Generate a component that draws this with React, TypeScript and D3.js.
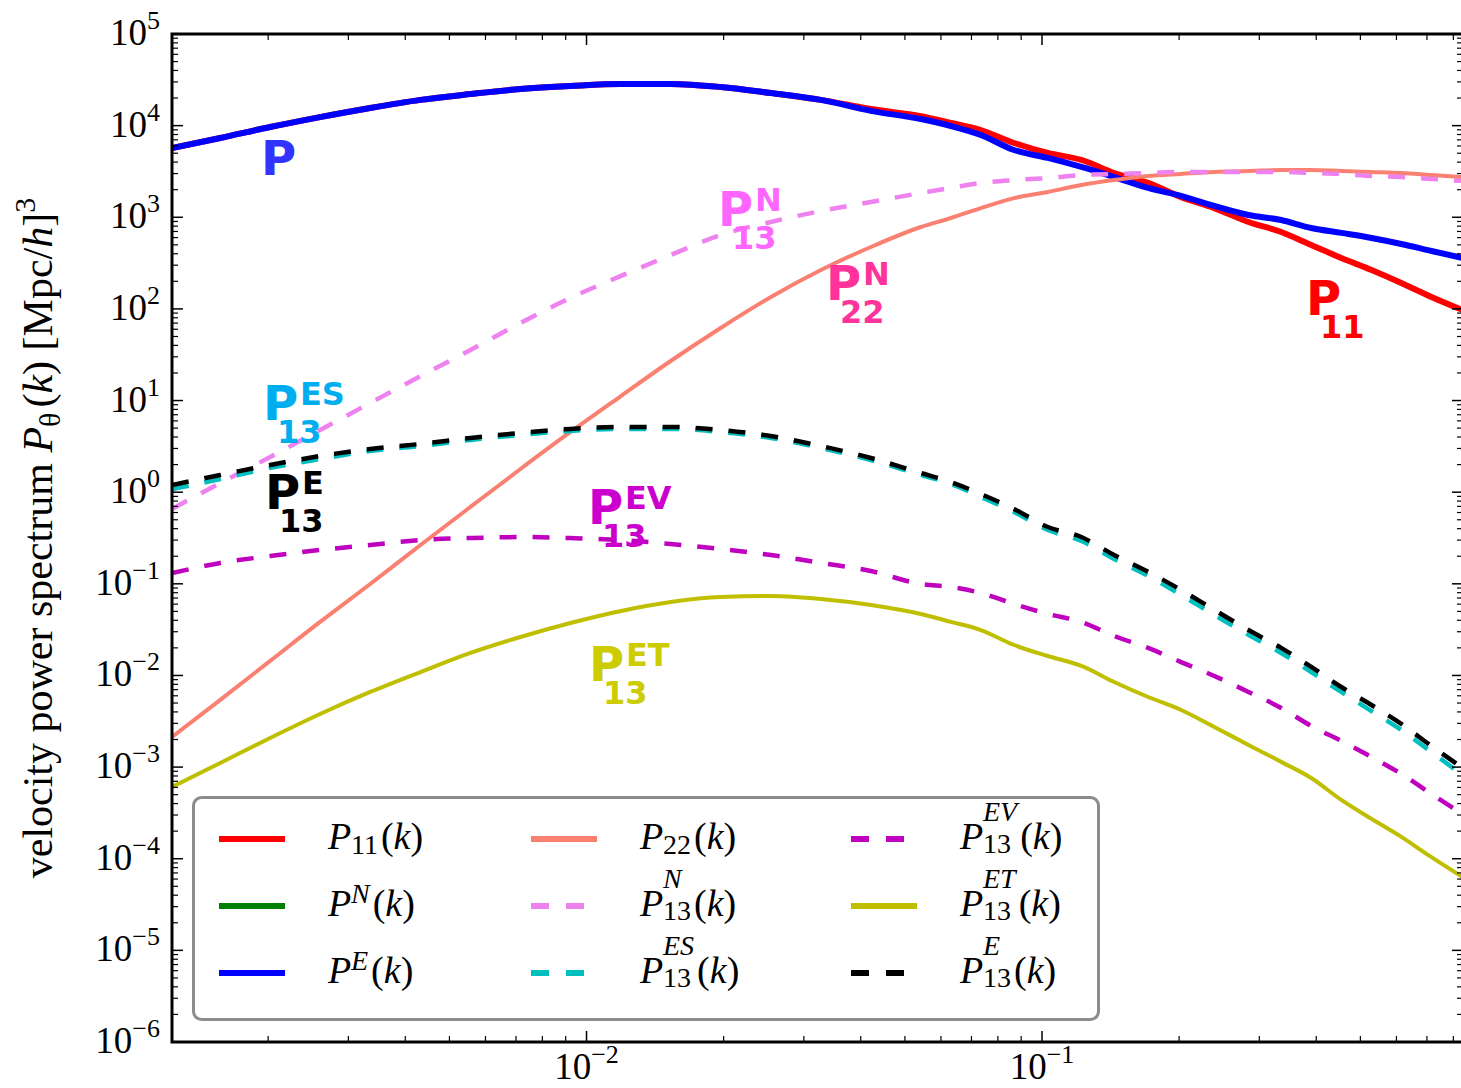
import * as d3 from "d3"

// wavenumber grid (h/Mpc) and the curves
const kGrid = [0.00123, 0.00157, 0.00202, 0.0026, 0.00335, 0.00432, 0.00556, 0.00716, 0.00922, 0.0119, 0.0153, 0.0197, 0.0254, 0.0327, 0.0421, 0.0542, 0.0631, 0.0734, 0.0868, 0.103, 0.122, 0.144, 0.171, 0.202, 0.239, 0.284, 0.335, 0.39, 0.454, 0.529, 0.615, 0.716, 0.838]

const p11 = [5700, 7330, 9660, 12400, 15600, 19100, 22100, 25100, 27100, 28500, 28500, 26400, 22700, 19100, 15200, 12700, 10700, 8960, 6470, 5030, 4220, 3040, 2370, 1660, 1260, 889, 690, 499, 360, 266, 192, 135, 97.3]
const pE = [5700, 7330, 9660, 12400, 15600, 19100, 22100, 25100, 27100, 28500, 28500, 26400, 22700, 19100, 14500, 11800, 9910, 7910, 5420, 4440, 3540, 2750, 2090, 1710, 1330, 1060, 934, 764, 675, 594, 511, 429, 360]
const p22 = [0.00213, 0.00541, 0.0144, 0.0384, 0.0996, 0.265, 0.69, 1.79, 4.54, 11.2, 27.0, 61.9, 135, 266, 474, 783, 982, 1260, 1620, 1890, 2250, 2550, 2820, 2970, 3120, 3200, 3280, 3280, 3200, 3120, 3040, 2890, 2750]
const p13N = [0.656, 1.26, 2.42, 4.77, 9.4, 18.5, 35.6, 70.2, 132, 229, 387, 641, 889, 1170, 1470, 1840, 2090, 2370, 2550, 2680, 2890, 2970, 3040, 3120, 3120, 3120, 3120, 3040, 2970, 2820, 2750, 2620, 2490]
const p13ES = [1.08, 1.39, 1.84, 2.3, 2.82, 3.19, 3.72, 4.21, 4.66, 4.9, 4.9, 4.54, 3.91, 3.03, 2.24, 1.54, 1.23, 0.887, 0.608, 0.387, 0.294, 0.187, 0.122, 0.0755, 0.0457, 0.0277, 0.0176, 0.0109, 0.00661, 0.00409, 0.00254, 0.00146, 0.00082]
const p13EV = [0.131, 0.169, 0.201, 0.234, 0.265, 0.301, 0.316, 0.324, 0.316, 0.301, 0.272, 0.24, 0.206, 0.169, 0.138, 0.0995, 0.0925, 0.0794, 0.0603, 0.0469, 0.0384, 0.027, 0.02, 0.014, 0.00987, 0.00661, 0.00442, 0.00281, 0.00193, 0.00129, 0.000841, 0.000509, 0.000308]
const p13ET = [0.000607, 0.00111, 0.00208, 0.0038, 0.00661, 0.0109, 0.0176, 0.0263, 0.0374, 0.0506, 0.0634, 0.0719, 0.0736, 0.0684, 0.0588, 0.0469, 0.0384, 0.0313, 0.0215, 0.0163, 0.0127, 0.00849, 0.00582, 0.0042, 0.00274, 0.00174, 0.00114, 0.00076, 0.000438, 0.000272, 0.000173, 0.000104, 0.0000632]
const p13E = [1.2, 1.54, 1.98, 2.48, 2.96, 3.36, 3.91, 4.43, 4.9, 5.15, 5.15, 4.77, 4.1, 3.19, 2.36, 1.62, 1.29, 0.955, 0.656, 0.417, 0.324, 0.206, 0.135, 0.0857, 0.0519, 0.0313, 0.02, 0.0124, 0.00748, 0.00476, 0.00296, 0.0017, 0.000979]

const xTickExps = [-2, -1]
const yTickExps = [-6, -5, -4, -3, -2, -1, 0, 1, 2, 3, 4, 5]

const serif = "'Liberation Serif', 'Times New Roman', serif"
const sans = "'DejaVu Sans', 'Verdana', sans-serif"

const styles: Record<string, { color: string; width: number; dash?: string }> = {
  p11: { color: "#ff0000", width: 6 },
  pN: { color: "#008000", width: 6 },
  pE: { color: "#0000ff", width: 6 },
  p22: { color: "#fa8072", width: 4 },
  p13N: { color: "#ee82ee", width: 4.5, dash: "17,16" },
  p13ES: { color: "#00bfbf", width: 4.5, dash: "17,16" },
  p13EV: { color: "#bf00bf", width: 4.5, dash: "17,16" },
  p13ET: { color: "#bfbf00", width: 4 },
  p13E: { color: "#000000", width: 4.5, dash: "17,16" },
}

// drawing order as in the original plot
const series = [
  { id: "p11", values: p11 },
  { id: "pE", values: pE },
  { id: "p22", values: p22 },
  { id: "p13N", values: p13N },
  { id: "p13ES", values: p13ES },
  { id: "p13EV", values: p13EV },
  { id: "p13ET", values: p13ET },
  { id: "p13E", values: p13E },
]

const legendCols = [
  [{ id: "p11", sup: "", sub: "11" }, { id: "pN", sup: "N", sub: "" }, { id: "pE", sup: "E", sub: "" }],
  [{ id: "p22", sup: "", sub: "22" }, { id: "p13N", sup: "N", sub: "13" }, { id: "p13ES", sup: "ES", sub: "13" }],
  [{ id: "p13EV", sup: "EV", sub: "13" }, { id: "p13ET", sup: "ET", sub: "13" }, { id: "p13E", sup: "E", sub: "13" }],
]

// in-plot labels (left of the big P, baseline)
const annotations = [
  { sup: "", sub: "", color: "#3333ff", x: 261, y: 175 },
  { sup: "N", sub: "13", color: "#ff66ff", x: 718, y: 226 },
  { sup: "N", sub: "22", color: "#ff3399", x: 826, y: 300 },
  { sup: "", sub: "11", color: "#ff0000", x: 1306, y: 315 },
  { sup: "ES", sub: "13", color: "#00aeef", x: 263, y: 420 },
  { sup: "E", sub: "13", color: "#000000", x: 265, y: 509 },
  { sup: "EV", sub: "13", color: "#cc00cc", x: 588, y: 524 },
  { sup: "ET", sub: "13", color: "#cccc00", x: 589, y: 681 },
]

const ctx = typeof document !== "undefined" ? document.createElement("canvas").getContext("2d") : null
function textW(s: string, font: string) {
  if (!s) return 0
  if (!ctx) return s.length * 15
  ctx.font = font
  return ctx.measureText(s).width
}

const L = 172, R = 1463, T = 34, B = 1042

export default function App() {
  const x = d3.scaleLog().domain([0.00123, 0.84]).range([L, R])
  const y = d3.scaleLog().domain([1e-6, 1e5]).range([B, T])

  const line = d3
    .line<number>()
    .x((_, i) => x(kGrid[i]))
    .y((d) => y(d))
    .curve(d3.curveMonotoneX)

  const [k0, k1] = x.domain()
  const xMinor: number[] = []
  for (let e = -3; e <= -1; e++) for (let m = 2; m <= 9; m++) {
    const v = m * Math.pow(10, e)
    if (v > k0 && v < k1) xMinor.push(v)
  }
  const yMinor: number[] = []
  for (let e = -6; e <= 4; e++) for (let m = 2; m <= 9; m++) yMinor.push(m * Math.pow(10, e))

  const tickColor = "#000"
  const majLen = 11, minLen = 6

  const legendX = [219, 531, 851]
  const legendTextX = [328, 640, 960]
  const legendRowY = [839, 906, 973]

  return (
    <svg width={1461} height={1088} style={{ position: "absolute", left: 0, top: 0, background: "#fff" }}>
      <defs>
        <clipPath id="plotArea">
          <rect x={L} y={T} width={R - L} height={B - T} />
        </clipPath>
      </defs>
      <rect width={1461} height={1088} fill="#fff" />

      <g clipPath="url(#plotArea)" fill="none" strokeLinejoin="round">
        {series.map((s) => (
          <path
            key={s.id}
            d={line(s.values) || ""}
            stroke={styles[s.id].color}
            strokeWidth={styles[s.id].width}
            strokeDasharray={styles[s.id].dash}
          />
        ))}
      </g>

      {/* curve labels */}
      {annotations.map((a, i) => (
        <g key={i} fill={a.color} fontFamily={sans} fontWeight="bold">
          <text x={a.x} y={a.y} fontSize={48}>P</text>
          {a.sup && <text x={a.x + 37} y={a.y - 15} fontSize={32}>{a.sup}</text>}
          {a.sub && <text x={a.x + 14} y={a.y + 23} fontSize={32}>{a.sub}</text>}
        </g>
      ))}

      {/* axes frame and ticks */}
      <g stroke={tickColor}>
        {xTickExps.map((e) => {
          const px = x(Math.pow(10, e))
          return (
            <g key={"xm" + e} strokeWidth={1.5}>
              <line x1={px} x2={px} y1={B} y2={B - majLen} />
              <line x1={px} x2={px} y1={T} y2={T + majLen} />
            </g>
          )
        })}
        {xMinor.map((v) => {
          const px = x(v)
          return (
            <g key={"xn" + v} strokeWidth={1.2}>
              <line x1={px} x2={px} y1={B} y2={B - minLen} />
              <line x1={px} x2={px} y1={T} y2={T + minLen} />
            </g>
          )
        })}
        {yTickExps.map((e) => {
          const py = y(Math.pow(10, e))
          return (
            <g key={"ym" + e} strokeWidth={1.5}>
              <line x1={L} x2={L + majLen} y1={py} y2={py} />
              <line x1={R} x2={R - majLen} y1={py} y2={py} />
            </g>
          )
        })}
        {yMinor.map((v) => {
          const py = y(v)
          return (
            <g key={"yn" + v} strokeWidth={1.2}>
              <line x1={L} x2={L + minLen} y1={py} y2={py} />
              <line x1={R} x2={R - minLen} y1={py} y2={py} />
            </g>
          )
        })}
        <rect x={L} y={T} width={R - L} height={B - T} fill="none" strokeWidth={3} />
      </g>

      {/* tick labels */}
      <g fontFamily={serif} fill="#000">
        {xTickExps.map((e) => (
          <text key={"xl" + e} x={x(Math.pow(10, e))} y={1079} fontSize={37} textAnchor="middle">
            10<tspan dy={-16} fontSize={26}>{e < 0 ? "\u2212" + Math.abs(e) : e}</tspan>
          </text>
        ))}
        {yTickExps.map((e) => (
          <text key={"yl" + e} x={160} y={y(Math.pow(10, e)) + 11} fontSize={37} textAnchor="end">
            10<tspan dy={-16} fontSize={26}>{e < 0 ? "\u2212" + Math.abs(e) : String(e)}</tspan>
          </text>
        ))}
      </g>

      {/* y axis label */}
      <text transform={`translate(52,538) rotate(-90)`} textAnchor="middle" fontFamily={serif} fontSize={42} fill="#000">
        {"velocity power spectrum "}
        <tspan fontStyle="italic">P</tspan>
        <tspan fontSize={30} dy={8}>θ</tspan>
        <tspan dy={-8} dx={5}>{"("}</tspan>
        <tspan fontStyle="italic">k</tspan>
        {") [Mpc/"}
        <tspan fontStyle="italic">h</tspan>
        {"]"}
        <tspan fontSize={30} dy={-17}>3</tspan>
      </text>

      {/* legend */}
      <rect x={193.5} y={797.5} width={905} height={222} rx={8} ry={8} fill="#fff" stroke="#8c8c8c" strokeWidth={3} />
      {legendCols.map((col, ci) =>
        col.map((it, ri) => {
          const st = styles[it.id]
          const ly = legendRowY[ri]
          const tx = legendTextX[ci]
          const ty = ly + 10
          const scriptX = tx + 23
          const both = it.sup && it.sub
          const supY = both ? ty - 28 : ty - 13
          const subY = both ? ty + 4 : ty + 5
          const wSup = textW(it.sup, `italic 28px ${serif}`)
          const wSub = textW(it.sub, `28px ${serif}`)
          const kx = scriptX + Math.max(wSup, wSub) + 3
          return (
            <g key={it.id}>
              <line
                x1={legendX[ci]}
                x2={legendX[ci] + 66}
                y1={ly}
                y2={ly}
                stroke={st.color}
                strokeWidth={6}
                strokeDasharray={st.dash ? "18,17" : undefined}
              />
              <g fontFamily={serif} fill="#000">
                <text x={tx} y={ty} fontSize={38} fontStyle="italic">P</text>
                {it.sup && <text x={scriptX} y={supY} fontSize={28} fontStyle="italic">{it.sup}</text>}
                {it.sub && <text x={scriptX} y={subY} fontSize={28}>{it.sub}</text>}
                <text x={kx} y={ty} fontSize={38}>
                  {"("}
                  <tspan fontStyle="italic">k</tspan>
                  {")"}
                </text>
              </g>
            </g>
          )
        })
      )}
    </svg>
  )
}
